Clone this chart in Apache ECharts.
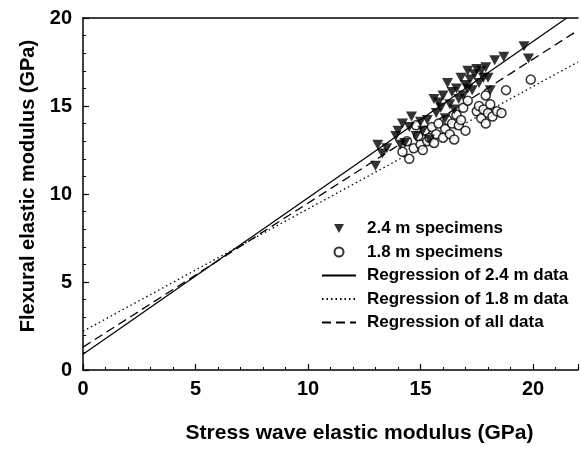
<!DOCTYPE html>
<html>
<head>
<meta charset="utf-8">
<style>
  html, body { margin: 0; padding: 0; background: #fff; }
  #chart { width: 581px; height: 449px; }
</style>
<script src="https://cdn.jsdelivr.net/npm/echarts@6/dist/echarts.min.js"></script>
</head>
<body>
<div id="chart"></div>
<script>
// Axis ticks
const xTicks = [0, 5, 10, 15, 20];
const yTicks = [0, 5, 10, 15, 20];

// 2.4 m specimens: [stress wave MOE, flexural MOE] (GPa)
const specimens24 = [
  [13.0, 11.6], [13.1, 12.8], [13.3, 12.3], [13.5, 12.6], [13.9, 13.3], [14.0, 13.6],
  [14.1, 12.8], [14.2, 14.0], [14.3, 12.9], [14.5, 13.8], [14.6, 14.4], [14.8, 13.3],
  [15.0, 14.1], [15.1, 13.6], [15.3, 14.2], [15.4, 13.1], [15.6, 15.4], [15.7, 14.6],
  [15.8, 15.2], [15.9, 14.9], [16.0, 15.6], [16.1, 14.3], [16.2, 16.3], [16.3, 15.1],
  [16.4, 15.8], [16.5, 14.8], [16.6, 16.0], [16.7, 15.4], [16.8, 16.6], [16.9, 15.6],
  [17.0, 16.2], [17.1, 17.0], [17.1, 16.0], [17.2, 16.5], [17.3, 15.9], [17.4, 16.8],
  [17.5, 17.1], [17.6, 16.3], [17.7, 17.0], [17.8, 16.6], [17.9, 17.2], [18.0, 16.6],
  [18.1, 15.9], [18.3, 17.6], [18.7, 17.8], [19.6, 18.4], [19.8, 17.7]
];

// 1.8 m specimens
const specimens18 = [
  [14.2, 12.4], [14.5, 12.0], [14.4, 13.0], [14.7, 12.6], [14.8, 13.9], [14.9, 13.3],
  [15.0, 12.8], [15.1, 12.5], [15.2, 13.6], [15.3, 13.0], [15.4, 13.2], [15.5, 13.8],
  [15.6, 12.9], [15.7, 13.4], [15.8, 14.0], [16.0, 13.2], [16.1, 13.7], [16.2, 14.2],
  [16.3, 13.4], [16.4, 14.0], [16.5, 13.1], [16.6, 14.5], [16.7, 13.9], [16.8, 14.2],
  [16.9, 14.9], [17.0, 13.6], [17.1, 15.3], [17.5, 14.7], [17.6, 15.0], [17.7, 14.3],
  [17.8, 14.8], [17.9, 15.6], [17.9, 14.0], [18.0, 14.6], [18.1, 15.1], [18.2, 14.4],
  [18.4, 14.7], [18.6, 14.6], [18.8, 15.9], [19.9, 16.5]
];

// Regression line end points
const reg24 = [[0, 0.9], [21.5, 20]];
const reg18 = [[0, 2.2], [22, 17.5]];
const regAll = [[0, 1.3], [22, 19.3]];

const names = [
  '2.4 m specimens',
  '1.8 m specimens',
  'Regression of 2.4 m data',
  'Regression of 1.8 m data',
  'Regression of all data'
];

const FONT = 'Liberation Sans, Arial, sans-serif';
const downTriangle = 'path://M0,0 L10,0 L5,9 Z';

const chart = echarts.init(document.getElementById('chart'), null, { renderer: 'canvas' });

const lineSeries = (name, data, type) => ({
  name, type: 'line', data, symbol: 'none', silent: true,
  lineStyle: { color: '#000', width: 1.3, type },
  z: 2
});

// legend: no marker on the line entries
const legendData = names.map((n, i) => (i < 2 ? { name: n } : { name: n, itemStyle: { opacity: 0 } }));

chart.setOption({
  animation: false,
  backgroundColor: '#fff',
  grid: { left: 83, top: 18, right: -5, bottom: 69, containLabel: false },
  legend: {
    orient: 'vertical',
    left: 316, top: 215,
    itemWidth: 34, itemHeight: 9, itemGap: 6.5,
    textStyle: {
      fontFamily: FONT, fontSize: 17, lineHeight: 17, fontWeight: 'bold', color: '#000',
      padding: [0, 0, 0, 6]
    },
    data: legendData
  },
  xAxis: [{
    type: 'value', min: 0, max: 22, interval: 5,
    axisLine: { lineStyle: { color: '#000', width: 1.5 } },
    axisTick: { inside: true, length: 6, lineStyle: { color: '#000', width: 1.2 } },
    minorTick: { show: true, splitNumber: 5, length: 3, lineStyle: { color: '#000', width: 1 } },
    splitLine: { show: false },
    axisLabel: {
      fontFamily: FONT, fontSize: 20, fontWeight: 'bold', color: '#000', margin: 9,
      formatter: v => (xTicks.includes(v) ? String(v) : '')
    },
    name: 'Stress wave elastic modulus (GPa)',
    nameLocation: 'middle', nameGap: 53,
    nameTextStyle: {
      fontFamily: FONT, fontSize: 21, fontWeight: 'bold', color: '#000',
      padding: [0, 0, 0, 58]
    }
  }, {
    type: 'value', min: 0, max: 22, position: 'top',
    axisLine: { show: true, onZero: false, lineStyle: { color: '#000', width: 1.5 } },
    axisTick: { show: false }, axisLabel: { show: false }, splitLine: { show: false }
  }],
  yAxis: {
    type: 'value', min: 0, max: 20, interval: 5,
    axisLine: { show: true, lineStyle: { color: '#000', width: 1.5 } },
    axisTick: { show: true, inside: true, length: 6, lineStyle: { color: '#000', width: 1.2 } },
    minorTick: { show: true, splitNumber: 5, length: 3, lineStyle: { color: '#000', width: 1 } },
    splitLine: { show: false },
    axisLabel: {
      fontFamily: FONT, fontSize: 20, fontWeight: 'bold', color: '#000', margin: 11,
      formatter: v => (yTicks.includes(v) ? String(v) : '')
    },
    name: 'Flexural elastic modulus (GPa)',
    nameLocation: 'middle', nameGap: 42, nameRotate: 90,
    nameTextStyle: {
      fontFamily: FONT, fontSize: 20, fontWeight: 'bold', color: '#000',
      padding: [0, 0, 0, 16]
    }
  },
  series: [
    {
      name: names[0], type: 'scatter', data: specimens24,
      symbol: downTriangle, symbolSize: [11, 10],
      itemStyle: { color: '#000' }, z: 4
    },
    {
      name: names[1], type: 'scatter', data: specimens18,
      symbol: 'circle', symbolSize: 9,
      itemStyle: { color: '#fff', borderColor: '#000', borderWidth: 1.5 }, z: 3
    },
    lineSeries(names[2], reg24, 'solid'),
    lineSeries(names[3], reg18, [1.5, 3]),
    lineSeries(names[4], regAll, [9, 5])
  ]
});
</script>
</body>
</html>
